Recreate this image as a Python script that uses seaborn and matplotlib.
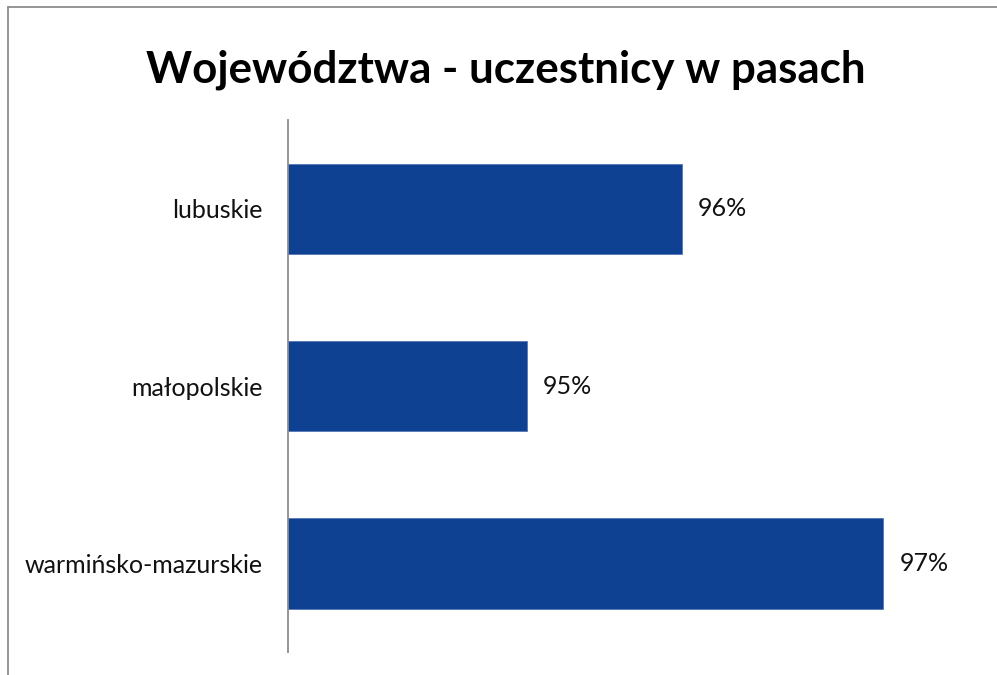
import matplotlib
matplotlib.use("Agg")
import matplotlib.pyplot as plt
import seaborn as sns
import pandas as pd
from matplotlib.lines import Line2D

# dane
categories = ["lubuskie", "małopolskie", "warmińsko-mazurskie"]
values = [0.958, 0.950, 0.9684]
value_labels = ["96%", "95%", "97%"]

df = pd.DataFrame({"woj": categories, "val": values})

sns.set_theme(style="white")
plt.rcParams["font.family"] = ["Lato", "DejaVu Sans"]

fig = plt.figure(figsize=(9.97, 6.75), dpi=100)
ax = fig.add_axes([0.2889, 0.034, 0.704, 0.788])

sns.barplot(data=df, x="val", y="woj", color="#0F4192", saturation=1, width=0.51,
            edgecolor="#5577b5", linewidth=0.6, ax=ax)

ax.set_xlim(0.9377, 0.9739)
ax.set_ylim(2.5, -0.5)
ax.set_xlabel("")
ax.set_ylabel("")
ax.set_xticks([])
for s in ["top", "right", "bottom"]:
    ax.spines[s].set_visible(False)
ax.spines["left"].set_color("#8c8c8c")
ax.spines["left"].set_linewidth(1.3)
ax.tick_params(axis="y", length=0, pad=18, labelsize=18, labelcolor="#111111")

for i, (v, lab) in enumerate(zip(values, value_labels)):
    ax.annotate(lab, xy=(v, i), xytext=(11.5, 0), textcoords="offset points",
                va="center", ha="left", fontsize=18, color="#111111")

fig.text(0.507, 0.897, "Województwa - uczestnicy w pasach", ha="center", va="center",
         fontsize=31.6, fontweight="bold", color="#000000")

# ramka wykresu (lewa i gorna krawedz)
fig.add_artist(Line2D([0.0085, 0.0085], [0.0, 0.99], color="#8c8c8c", lw=1.3))
fig.add_artist(Line2D([0.0085, 1.0], [0.99, 0.99], color="#8c8c8c", lw=1.3))

fig.savefig("out.png", dpi=100)
